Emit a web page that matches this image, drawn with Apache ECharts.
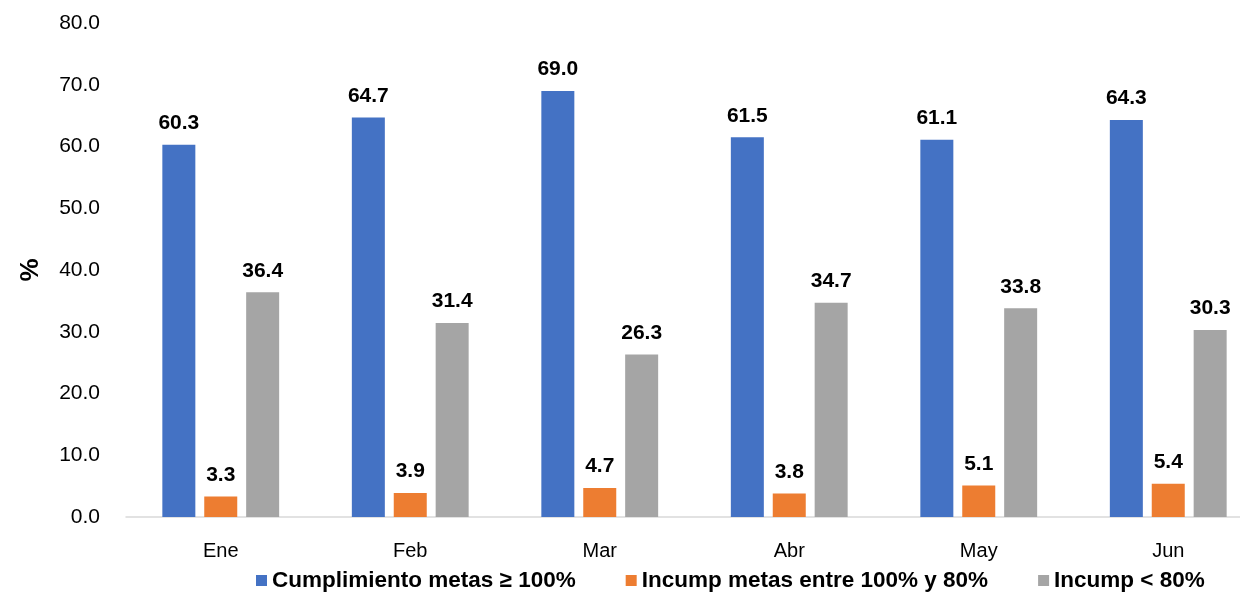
<!DOCTYPE html>
<html><head><meta charset="utf-8">
<script src="https://cdn.jsdelivr.net/npm/echarts@6/dist/echarts.min.js"></script>
<style>html,body{margin:0;padding:0;background:#fff}#c{width:1240px;height:592px}</style>
</head><body><div id="c"></div>
<script>
var categories = ['Ene','Feb','Mar','Abr','May','Jun'];
var seriesNames = ['Cumplimiento metas \u2265 100%','Incump metas entre 100% y 80%','Incump < 80%'];
var cumplimiento = [60.3,64.7,69.0,61.5,61.1,64.3];
var incumpEntre = [3.3,3.9,4.7,3.8,5.1,5.4];
var incumpMenor = [36.4,31.4,26.3,34.7,33.8,30.3];
var colors = ['#4472C4','#ED7D31','#A5A5A5'];
var FONT = '"Liberation Sans", Arial, sans-serif';

function mk(name, data, color){
  return {
    name: name, type: 'bar', data: data, barWidth: 33, barGap: '27%',
    itemStyle: {color: color},
    label: {show: true, position: 'top', distance: 11, fontFamily: FONT, fontWeight: 'bold', fontSize: 21, color: '#000',
      formatter: function(p){ return p.value.toFixed(1); }}
  };
}
var chart = echarts.init(document.getElementById('c'));
chart.setOption({
  animation: false,
  textStyle: {fontFamily: FONT},
  grid: {left: 126, width: 1137, top: 23, height: 494, containLabel: false, outerBoundsMode: 'none'},
  legend: {
    left: 256, top: 569, icon: 'rect', itemWidth: 11, itemHeight: 11, itemGap: 50, padding: 0,
    textStyle: {fontFamily: FONT, fontWeight: 'bold', fontSize: 22.5, color: '#000'},
    data: [
      {name: seriesNames[0]},
      {name: seriesNames[1], textStyle: {padding: [0, 15, 0, 0]}},
      {name: seriesNames[2]}
    ]
  },
  xAxis: {
    type: 'category', data: categories,
    axisLine: {lineStyle: {color: '#D9D9D9', width: 1.5}},
    axisTick: {show: false},
    axisLabel: {fontFamily: FONT, fontSize: 20, color: '#000', margin: 24}
  },
  yAxis: {
    type: 'value', min: 0, max: 80, interval: 10,
    name: '%', nameLocation: 'middle', nameRotate: 90, nameGap: 82,
    nameTextStyle: {fontFamily: FONT, fontWeight: 'bold', fontSize: 26, color: '#000'},
    axisLine: {show: false}, axisTick: {show: false}, splitLine: {show: false},
    axisLabel: {fontFamily: FONT, fontSize: 21, color: '#000', margin: 26, formatter: function(v){return v.toFixed(1);}}
  },
  series: [mk(seriesNames[0], cumplimiento, colors[0]), mk(seriesNames[1], incumpEntre, colors[1]), mk(seriesNames[2], incumpMenor, colors[2])]
});
</script></body></html>
